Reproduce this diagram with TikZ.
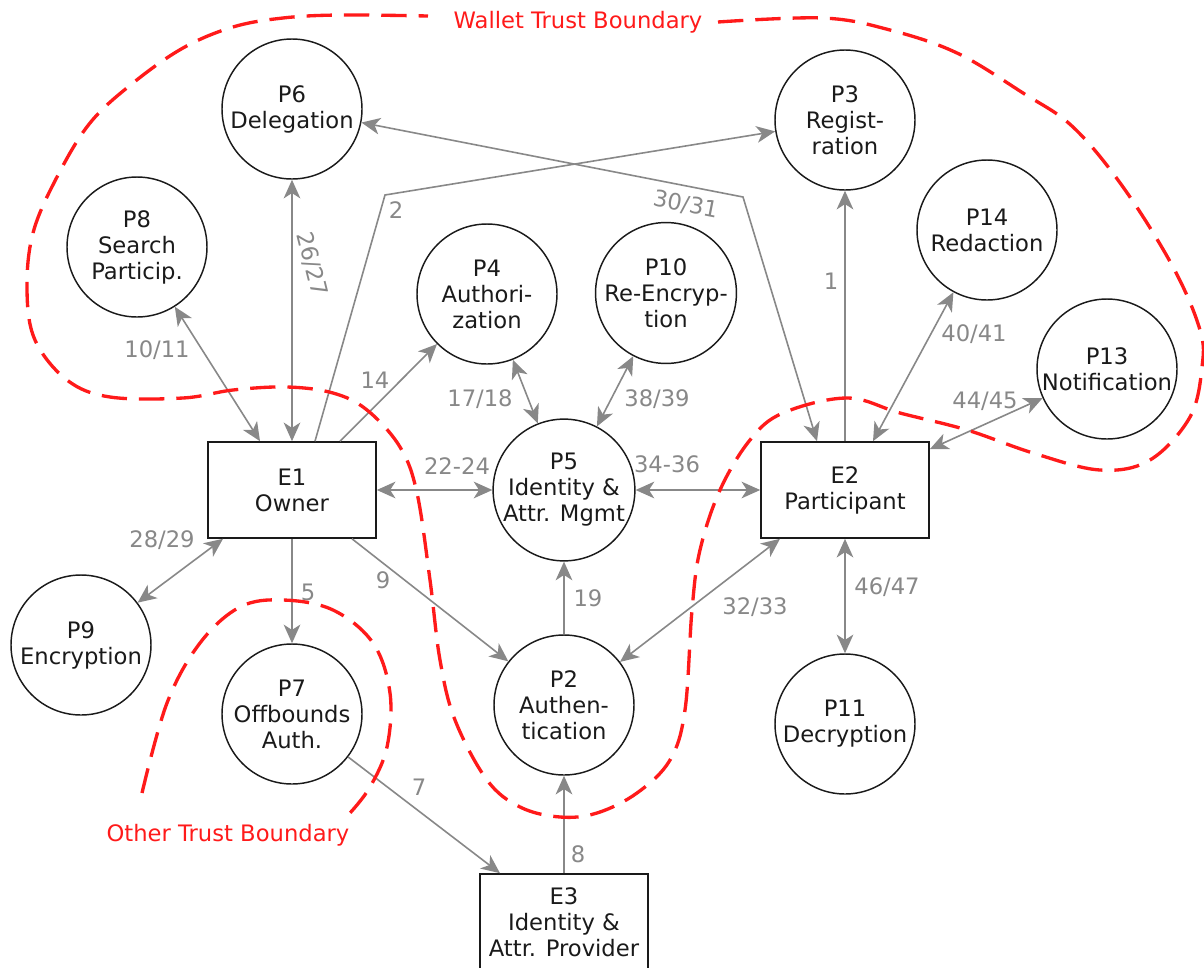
\documentclass[tikz,border=0pt]{standalone}
\usepackage{fontspec}
\setmainfont{DejaVu Sans}
\usetikzlibrary{arrows.meta,calc}
\definecolor{flowgray}{HTML}{888888}
\definecolor{inkblack}{HTML}{1A1A1A}
\definecolor{tbred}{HTML}{FF1A1A}
\begin{document}
\begin{tikzpicture}[x=0.75pt,y=-0.75pt,
  every node/.style={font=\fontsize{17pt}{19.5pt}\selectfont},
  proc/.style={circle, draw=inkblack, line width=1.1pt, minimum size=105pt,
    inner sep=0pt, align=center, text=inkblack},
  ent/.style={rectangle, draw=inkblack, line width=1.2pt, minimum width=126pt,
    minimum height=72pt, inner sep=0pt, align=center, text=inkblack},
  flow/.style={draw=flowgray, line width=1.2pt},
  >={Stealth[length=14pt,width=12.5pt,inset=4pt,flowgray]},
  flowlbl/.style={text=flowgray, inner sep=0pt},
  boundary/.style={draw=tbred, line width=2.5pt, dash pattern=on 19pt off 9pt},
  boundlbl/.style={text=tbred, inner sep=0pt}]
\useasboundingbox (0,0) rectangle (1204,968);

% processes
\node[proc] (P6)  at (292,109) {P6\\Delegation};
\node[proc] (P3)  at (845,120) {P3\\Regist-\\ration};
\node[proc] (P8)  at (137,247) {P8\\Search\\Particip.};
\node[proc] (P4)  at (487,294) {P4\\Authori-\\zation};
\node[proc] (P10) at (666,293) {P10\\Re-Encryp-\\tion};
\node[proc] (P14) at (987,230) {P14\\Redaction};
\node[proc] (P13) at (1107,369) {P13\\Notification};
\node[proc] (P5)  at (564,490) {P5\\Identity \&\\Attr. Mgmt};
\node[proc] (P9)  at (81,645) {P9\\Encryption};
\node[proc] (P7)  at (292,714) {P7\\Offbounds\\Auth.};
\node[proc] (P2)  at (564,705) {P2\\Authen-\\tication};
\node[proc] (P11) at (845,724) {P11\\Decryption};

% external entities
\node[ent] (E1) at (292,490) {E1\\Owner};
\node[ent] (E2) at (845,490) {E2\\Participant};
\node[ent] (E3) at (564,922) {E3\\Identity \&\\Attr. Provider};

% bends of the two long flows
\coordinate (b2)  at (385,195);
\coordinate (b30) at (743,197);

% data flows
\draw[flow,->]  (E2) -- (P3);
\draw[flow,->]  ($(E1.north)+(23,0)$) -- (b2) -- (P3);
\draw[flow,<->] (P6) -- (b30) -- ($(E2.north)+(-28,0)$);
\draw[flow,<->] (E1) -- (P6);
\draw[flow,<->] (P8) -- ($(E1.north)+(-32,0)$);
\draw[flow,->]  ($(E1.north)+(48,0)$) -- (P4);
\draw[flow,<->] (P4) -- (P5);
\draw[flow,<->] (P10) -- (P5);
\draw[flow,<->] (E1) -- (P5);
\draw[flow,<->] (P5) -- (E2);
\draw[flow,->]  (P2) -- (P5);
\draw[flow,->]  ($(E1.south)+(60,0)$) -- (P2);
\draw[flow,<->] ($(E2.south)+(-65,0)$) -- (P2);
\draw[flow,->]  (E1) -- (P7);
\draw[flow,<->] ($(E1.south)+(-69,0)$) -- (P9);
\draw[flow,->]  (P7) -- ($(E3.north)+(-64,0)$);
\draw[flow,->]  (E3) -- (P2);
\draw[flow,<->] ($(E2.north)+(28,0)$) -- (P14);
\draw[flow,<->] ($(E2.north east)+(0,8)$) -- (P13);
\draw[flow,<->] (E2) -- (P11);

% flow numbers
\node[flowlbl] (l1)  at (831,281) {1};
\node[flowlbl] (l2)  at (396,210) {2};
\node[flowlbl,rotate=-11] (l30) at (686,205) {30/31};
\node[flowlbl,rotate=-76] (l26) at (312,264) {26/27};
\node[flowlbl] (l10) at (157,350) {10/11};
\node[flowlbl] (l14) at (375,380) {14};
\node[flowlbl] (l17) at (480,399) {17/18};
\node[flowlbl] (l38) at (657,399) {38/39};
\node[flowlbl] (l22) at (457,466) {22-24};
\node[flowlbl] (l34) at (667,464) {34-36};
\node[flowlbl] (l19) at (588,598) {19};
\node[flowlbl] (l9)  at (383,580) {9};
\node[flowlbl] (l32) at (755,607) {32/33};
\node[flowlbl] (l5)  at (308,592) {5};
\node[flowlbl] (l28) at (162,540) {28/29};
\node[flowlbl] (l7)  at (419,787) {7};
\node[flowlbl] (l8)  at (578,854) {8};
\node[flowlbl] (l40) at (974,334) {40/41};
\node[flowlbl] (l44) at (985,401) {44/45};
\node[flowlbl] (l46) at (887,587) {46/47};

% trust boundaries (the wallet one runs clockwise from the right of its label)
\draw[boundary] plot[smooth, tension=0.6] coordinates {
  (718,22) (823,18) (890,30) (957,53) (1023,93) (1073,127) (1123,187)
  (1173,267) (1200,330) (1202,367) (1190,417) (1150,460) (1100,470)
  (1033,453) (967,430) (900,413) (847,398) (783,413) (750,440) (720,490)
  (700,550) (692,610) (685,710) (670,760) (637,793) (597,813) (560,817)
  (520,807) (487,780) (455,720) (440,660) (430,580) (417,493) (400,447)
  (367,410) (333,393) (287,387) (233,390) (183,398) (110,397) (67,380)
  (35,340) (27,290) (33,233) (57,177) (90,123) (133,83) (183,48) (233,27)
  (283,18) (340,15) (428,16)};
\node[boundlbl] (wtb) at (578,22) {Wallet Trust Boundary};

\draw[boundary] plot[smooth, tension=0.6] coordinates {
  (142,793) (167,703) (200,643) (240,607) (283,600) (333,610) (373,643)
  (390,693) (387,747) (370,787) (350,813)};
\node[boundlbl] (otb) at (228,835) {Other Trust Boundary};
\end{tikzpicture}
\end{document}
